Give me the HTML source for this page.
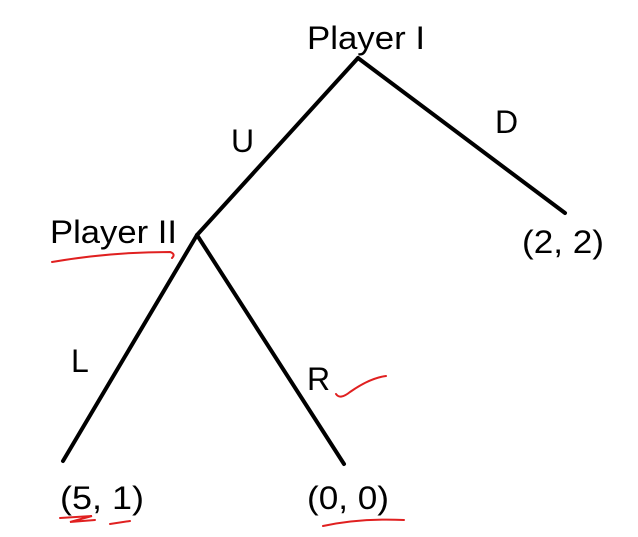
<!DOCTYPE html>
<html><head><style>
html,body{margin:0;padding:0;background:#fff;}
svg{display:block;}
text{font-family:"Liberation Sans",sans-serif;font-size:32px;fill:#000;}
</style></head><body>
<svg width="638" height="537" viewBox="0 0 638 537">
<g stroke="#000" stroke-width="4" stroke-linecap="round" fill="none">
<polyline points="358,58 197,235"/>
<polyline points="358,58 565,213"/>
<polyline points="197,235 63,461"/>
<polyline points="197,235 344,464"/>
</g>
<text x="307" y="49" textLength="118" lengthAdjust="spacingAndGlyphs">Player I</text>
<text x="231" y="152">U</text>
<text x="495" y="133">D</text>
<text x="50" y="243" textLength="127" lengthAdjust="spacingAndGlyphs">Player II</text>
<text x="522" y="253" textLength="82" lengthAdjust="spacingAndGlyphs">(2, 2)</text>
<text x="71" y="372">L</text>
<text x="307" y="390">R</text>
<text x="60" y="509" textLength="84" lengthAdjust="spacingAndGlyphs">(5, 1)</text>
<text x="307" y="509" textLength="82" lengthAdjust="spacingAndGlyphs">(0, 0)</text>
<g stroke="#e02020" stroke-width="2" fill="none" stroke-linecap="round">
<path d="M52,262 Q110,252 170,252 Q176,254 172,258"/>
<path d="M336,394 Q340,400 350,392 Q370,378 386,376"/>
<path d="M60,518 L92,516 L70,522 L95,520"/>
<path d="M110,524 L130,521"/>
<path d="M323,526 Q360,518 404,520"/>
</g>
</svg>
</body></html>
